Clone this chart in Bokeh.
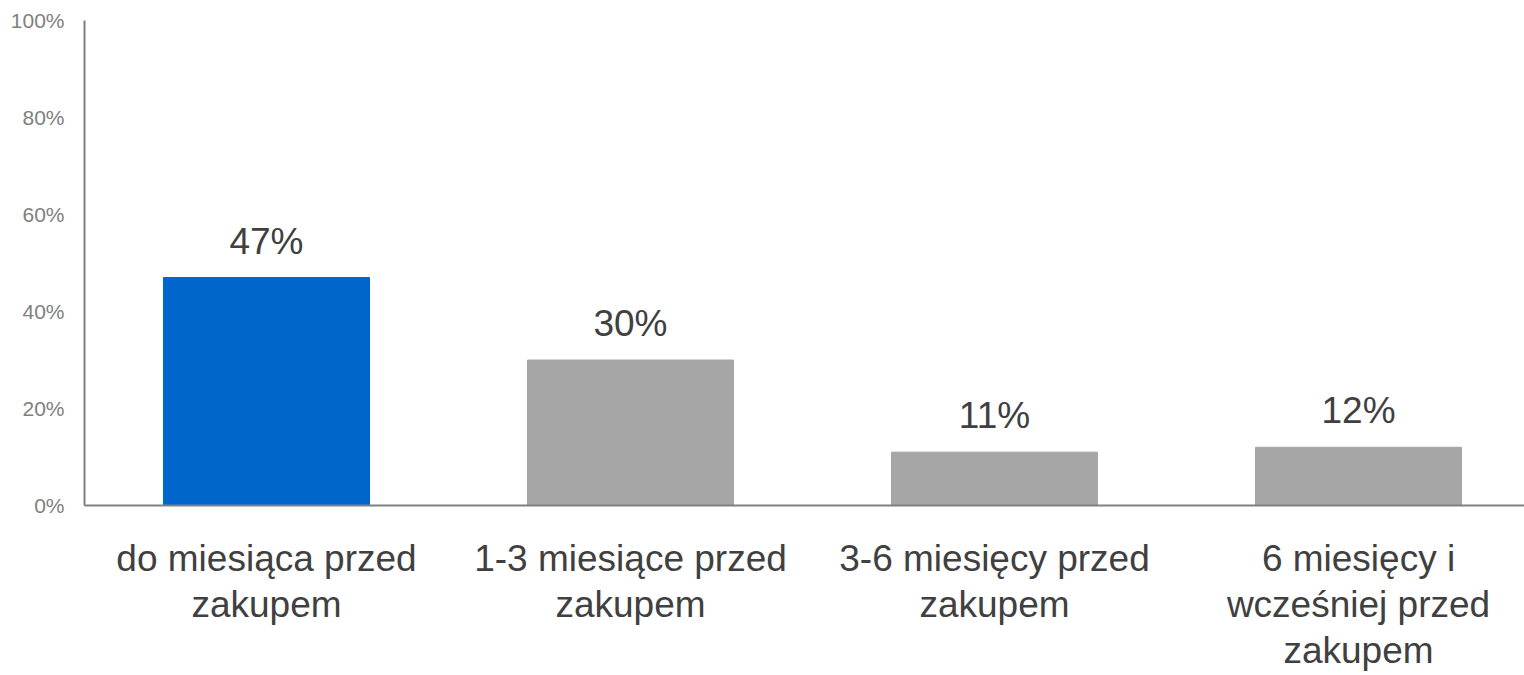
from bokeh.plotting import figure
from bokeh.models import ColumnDataSource, FixedTicker, NumeralTickFormatter, LabelSet, Range1d
from bokeh.core.properties import value
from bokeh.embed import file_html
from bokeh.resources import INLINE

categories = ["do miesiąca przed\nzakupem", "1-3 miesiące przed\nzakupem",
              "3-6 miesięcy przed\nzakupem", "6 miesięcy i\nwcześniej przed\nzakupem"]
values = [0.47, 0.30, 0.11, 0.12]
labels = ["47%", "30%", "11%", "12%"]
colors = ["#0066CC", "#A6A6A6", "#A6A6A6", "#A6A6A6"]
y_ticks = [0, 0.2, 0.4, 0.6, 0.8, 1.0]

xs = list(range(len(categories)))
src = ColumnDataSource(dict(x=xs, top=values, lab=labels, color=colors))

p = figure(width=1524, height=675, output_backend="svg", toolbar_location=None,
           x_range=Range1d(-0.5, 3.456), y_range=Range1d(0, 1),
           min_border_left=84, min_border_right=0, min_border_top=20, min_border_bottom=170)
p.outline_line_color = None
p.xgrid.visible = False
p.ygrid.visible = False

p.vbar(x="x", top="top", width=0.566, bottom=0, color="color", source=src)

lbl = LabelSet(x="x", y="top", text="lab", source=src, text_align="center",
               text_baseline="alphabetic", y_offset=24, text_font_size="37px",
               text_color="#404040", text_font=value("Liberation Sans"))
p.add_layout(lbl)

p.xaxis.ticker = FixedTicker(ticks=xs)
p.xaxis.major_label_overrides = {i: c for i, c in zip(xs, categories)}
p.xaxis.major_tick_line_color = None
p.xaxis.minor_tick_line_color = None
p.xaxis.axis_line_color = "#808080"
p.xaxis.axis_line_width = 2
p.xaxis.major_label_text_font_size = "37px"
p.xaxis.major_label_text_font = "Liberation Sans"
p.xaxis.major_label_text_color = "#404040"
p.xaxis.major_label_text_line_height = 1.13
p.xaxis.major_label_standoff = 26

p.yaxis.ticker = FixedTicker(ticks=y_ticks)
p.yaxis.formatter = NumeralTickFormatter(format="0%")
p.yaxis.major_tick_line_color = None
p.yaxis.minor_tick_line_color = None
p.yaxis.axis_line_color = "#808080"
p.yaxis.axis_line_width = 2
p.yaxis.major_label_text_font_size = "21px"
p.yaxis.major_label_text_font = "Liberation Sans"
p.yaxis.major_label_text_color = "#808080"
p.yaxis.major_label_standoff = 14

open("out.html", "w").write(file_html(p, INLINE))
